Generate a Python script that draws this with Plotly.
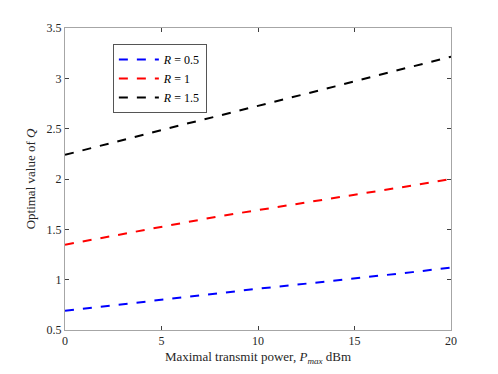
import plotly.graph_objects as go

p_max = [0, 2, 4, 6, 8, 10, 12, 14, 16, 18, 20]
q_r05 = [0.69, 0.735, 0.78, 0.825, 0.868, 0.91, 0.95, 0.99, 1.03, 1.075, 1.12]
q_r1 = [1.347, 1.42, 1.49, 1.56, 1.63, 1.69, 1.75, 1.81, 1.87, 1.935, 2.0]
q_r15 = [2.24, 2.34, 2.44, 2.535, 2.63, 2.725, 2.82, 2.92, 3.02, 3.12, 3.215]

series = [
    ("<i>R</i> = 0.5", q_r05, "#0000ff"),
    ("<i>R</i> = 1", q_r1, "#ff0000"),
    ("<i>R</i> = 1.5", q_r15, "#000000"),
]

fig = go.Figure()
for name, ys, col in series:
    fig.add_trace(go.Scatter(x=p_max, y=ys, mode="lines", name=name,
                             line=dict(color=col, width=2, dash="dash")))

font = "Liberation Serif"
axis_common = dict(showline=True, linecolor="#a6a6a6", linewidth=1, mirror="ticks",
                   ticks="inside", ticklen=4, tickcolor="#404040", showgrid=False,
                   zeroline=False, tickfont=dict(family=font, size=12, color="#262626"))

# page body adds 8px, so the figure is a bit smaller than the window
fig.update_layout(
    width=490, height=366,
    margin=dict(l=57, r=47, t=20, b=41),
    paper_bgcolor="white", plot_bgcolor="white",
    font=dict(family=font, color="#262626"),
    showlegend=True,
    legend=dict(x=0.124, y=0.947, xanchor="left", yanchor="top",
                bordercolor="#555555", borderwidth=1, bgcolor="white",
                font=dict(family=font, size=12, color="#000000"), tracegroupgap=0,
                itemwidth=40),
    xaxis=dict(range=[0, 20], tickvals=[0, 5, 10, 15, 20],
               title=dict(text="Maximal transmit power, <i>P</i><sub><i>max</i></sub> dBm",
                          font=dict(family=font, size=13), standoff=4),
               **axis_common),
    yaxis=dict(range=[0.5, 3.5], tickvals=[0.5, 1, 1.5, 2, 2.5, 3, 3.5],
               ticktext=["0.5", "1", "1.5", "2", "2.5", "3", "3.5"],
               title=dict(text="Optimal value of <i>Q</i>", font=dict(family=font, size=13), standoff=8),
               **axis_common),
)

fig.write_html("out.html")
